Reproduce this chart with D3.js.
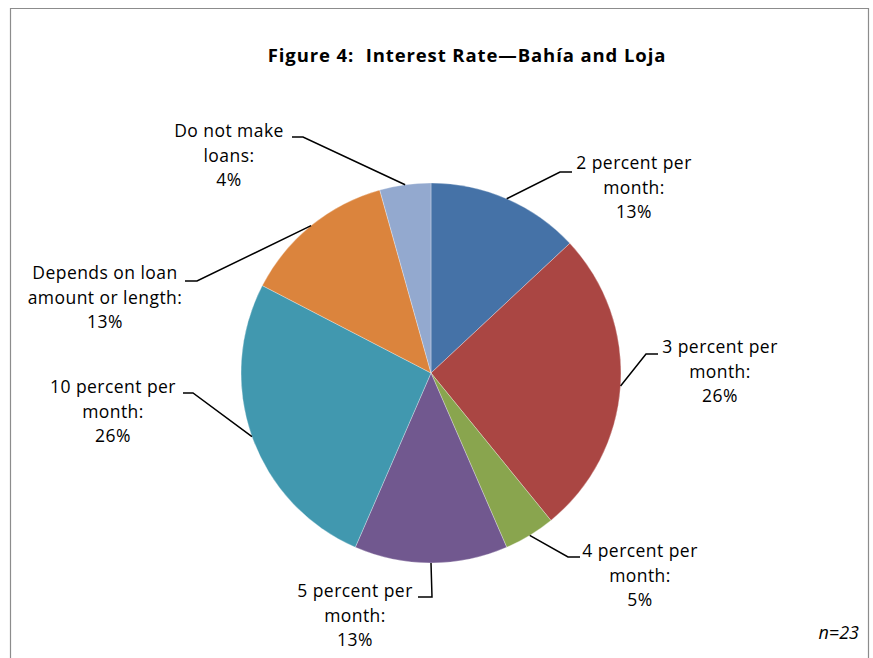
<!DOCTYPE html>
<html><head><meta charset="utf-8">
<script src="https://cdn.jsdelivr.net/npm/d3@7"></script>
<style>body{margin:0;background:#fff}svg{display:block}text{white-space:pre}</style>
</head><body>
<svg id="chart" width="873" height="658"></svg>
<script>
// Data
const categories = ["2 percent per month", "3 percent per month", "4 percent per month", "5 percent per month", "10 percent per month", "Depends on loan amount or length", "Do not make loans"];
const counts = [3, 6, 1, 3, 6, 3, 1];
const percentLabels = ["13%", "26%", "5%", "13%", "26%", "13%", "4%"];
const labelLines = [["2 percent per", "month:"], ["3 percent per", "month:"], ["4 percent per", "month:"], ["5 percent per", "month:"], ["10 percent per", "month:"], ["Depends on loan", "amount or length:"], ["Do not make", "loans:"]];
const colors = ["#4572A7", "#AA4643", "#89A54E", "#71588F", "#4198AF", "#DB843D", "#93A9CF"];
const titleText = "Figure 4:  Interest Rate\u2014Bah\u00eda and Loja".replace("\u00ee","\u00ed");
const nText = "n=23";

// Layout (label elbow / text placement)
const layout = [
  {ex: 560, ey: 172, hx: 572, tx: 634, ty: 163},
  {ex: 646, ey: 354, hx: 658, tx: 720, ty: 347},
  {ex: 568, ey: 557, hx: 580, tx: 640, ty: 551},
  {ex: 432, ey: 597, hx: 418, tx: 355, ty: 591},
  {ex: 193, ey: 393, hx: 183, tx: 113, ty: 387},
  {ex: 197, ey: 281, hx: 185, tx: 105, ty: 273},
  {ex: 303, ey: 137, hx: 292, tx: 229, ty: 131}
];

const svg = d3.select("#chart");
const cx = 431, cy = 373, R = 190;
const font = "'Open Sans', Lato, sans-serif";

// Frame
svg.append("path").attr("d", "M10.5,658 V8.5 H868.5 V658").attr("fill", "none").attr("stroke", "#8c8c8c").attr("stroke-width", 1.2);

svg.append("text").attr("x", 467).attr("y", 62).attr("text-anchor", "middle")
  .attr("font-family", font).attr("font-weight", "bold").attr("font-size", 18.5).attr("letter-spacing", 0.9).attr("fill", "#000").text(titleText);

const pie = d3.pie().sort(null).value(d => d)(counts);
const arc = d3.arc().innerRadius(0).outerRadius(R);
const g = svg.append("g").attr("transform", `translate(${cx},${cy})`);
g.selectAll("path").data(pie).join("path")
  .attr("d", arc).attr("fill", (d, i) => colors[i]).attr("stroke", "#fff").attr("stroke-width", 0.3);

pie.forEach((d, i) => {
  const a = (d.startAngle + d.endAngle) / 2;
  const px = cx + R * Math.sin(a), py = cy - R * Math.cos(a);
  const L = layout[i];
  svg.append("polyline").attr("points", `${px},${py} ${L.ex},${L.ey} ${L.hx},${L.ey}`)
    .attr("fill", "none").attr("stroke", "#000").attr("stroke-width", 1.5);
  const lines = [...labelLines[i], percentLabels[i]];
  const t = svg.append("text").attr("font-family", font).attr("font-size", 17.5).attr("letter-spacing", 0.45).attr("fill", "#000").attr("text-anchor", "middle");
  lines.forEach((s, j) => {
    t.append("tspan").attr("x", L.tx).attr("y", L.ty + 6 + j * 24.5).text(s);
  });
});

svg.append("text").attr("x", 859).attr("y", 639).attr("text-anchor", "end")
  .attr("font-family", font).attr("font-style", "italic").attr("font-size", 18).text(nText);
</script>
</body></html>
